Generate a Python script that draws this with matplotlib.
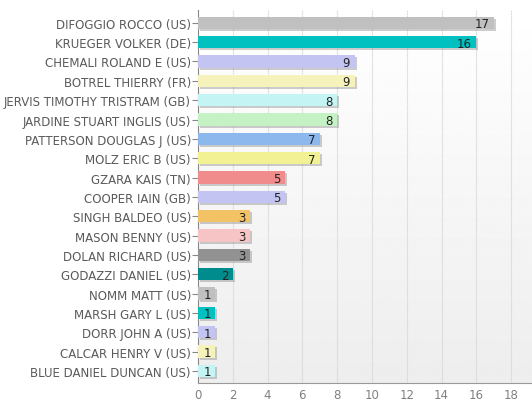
import numpy as np
import matplotlib
matplotlib.use("Agg")
import matplotlib.pyplot as plt

# data (top to bottom)
names = ["DIFOGGIO ROCCO (US)", "KRUEGER VOLKER (DE)", "CHEMALI ROLAND E (US)",
         "BOTREL THIERRY (FR)", "JERVIS TIMOTHY TRISTRAM (GB)", "JARDINE STUART INGLIS (US)",
         "PATTERSON DOUGLAS J (US)", "MOLZ ERIC B (US)", "GZARA KAIS (TN)",
         "COOPER IAIN (GB)", "SINGH BALDEO (US)", "MASON BENNY (US)",
         "DOLAN RICHARD (US)", "GODAZZI DANIEL (US)", "NOMM MATT (US)",
         "MARSH GARY L (US)", "DORR JOHN A (US)", "CALCAR HENRY V (US)",
         "BLUE DANIEL DUNCAN (US)"]
counts = [17, 16, 9, 9, 8, 8, 7, 7, 5, 5, 3, 3, 3, 2, 1, 1, 1, 1, 1]
colors = ["#c0c0c0", "#00c0c0", "#c4c4f2", "#f6f2bc", "#c4f4f4", "#c4f2c4",
          "#8cb8ee", "#f2f294", "#f08c8c", "#c4c4f2", "#f2c264", "#f6c4c4",
          "#929292", "#008c8c", "#c0c0c0", "#00c0c0", "#c4c4f2", "#f6f2bc",
          "#c4f4f4"]

fig = plt.figure(figsize=(5.32, 4.02), dpi=100)
ax = fig.add_axes([0.372, 0.045, 0.628, 0.928])

n = len(names)
y = np.arange(n)[::-1]
xmax = 19.2
ylo, yhi = -0.62, n - 1 + 0.67

# gradient background
grad = np.linspace(0.93, 1.0, 256).reshape(-1, 1)
ax.imshow(grad, extent=[0, xmax, ylo, yhi], aspect="auto",
          cmap="gray", vmin=0, vmax=1, origin="lower", zorder=0)

for gx in range(2, 19, 2):
    ax.axvline(gx, color="#d4d4d4", lw=0.8, ls=(0, (1, 0.6)), zorder=1)

# shadow then bars
ax.barh(y - 0.1, counts, left=0.12, height=0.64, color="#909090", alpha=0.45, zorder=2)
ax.barh(y, counts, height=0.64, color=colors, zorder=3)
for yi, c in zip(y, counts):
    ax.text(c - 0.25, yi - 0.05, str(c), ha="right", va="center", fontsize=8.5,
            color="#222222", zorder=4)

ax.set_xlim(0, xmax)
ax.set_ylim(ylo, yhi)
ax.set_yticks(y)
ax.set_yticklabels(names)
ax.set_xticks(range(0, 19, 2))
ax.tick_params(axis="y", length=4, color="#888888", labelsize=8.5, labelcolor="#5a5a5a", pad=1)
ax.tick_params(axis="x", length=0, labelsize=8.5, labelcolor="#808080", pad=4)
for s in ["top", "right"]:
    ax.spines[s].set_visible(False)
ax.spines["left"].set_color("#888888")
ax.spines["bottom"].set_color("#999999")

fig.savefig("out.png", dpi=100)
